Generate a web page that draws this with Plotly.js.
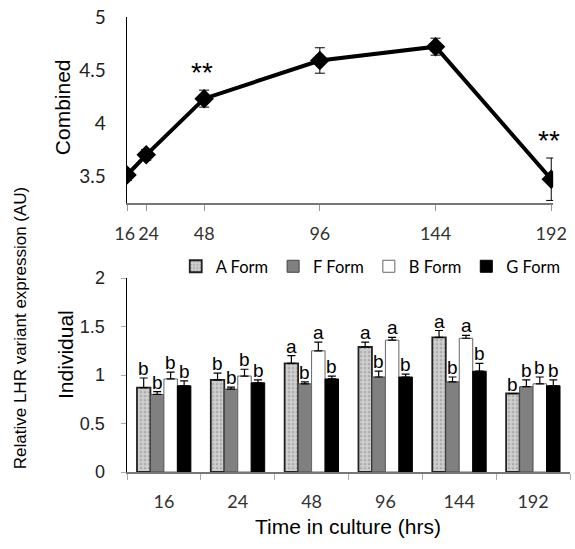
<!DOCTYPE html>
<html><head><meta charset="utf-8">
<script src="https://cdn.plot.ly/plotly-3.0.1.min.js"></script>
<style>body{margin:0;background:#fff}#c{width:575px;height:549px}</style>
</head><body><div id="c"></div>
<script>
// Combined (top)
const timesNum = [16, 24, 48, 96, 144, 192];
const timeLabels = ["16\u00a0", "\u00a024", "48", "96", "144", "192"];
const combined = [3.51, 3.70, 4.23, 4.59, 4.72, 3.47];
const combinedErr = [0.05, 0.05, 0.08, 0.12, 0.08, 0.20];
const combinedSig = ["", "", "**", "", "", "**"];

// Individual (bottom)
const categories = ["16", "24", "48", "96", "144", "192"];
const formNames = ["A Form", "F Form", "B Form", "G Form"];
const aForm = [0.87, 0.95, 1.12, 1.29, 1.39, 0.81];
const fForm = [0.80, 0.855, 0.91, 0.98, 0.93, 0.88];
const bForm = [0.96, 0.99, 1.25, 1.36, 1.38, 0.91];
const gForm = [0.89, 0.92, 0.96, 0.98, 1.04, 0.89];
const aErr = [0.10, 0.07, 0.08, 0.05, 0.07, 0];
const fErr = [0.03, 0.02, 0.02, 0.06, 0.05, 0.07];
const bErr = [0.07, 0.07, 0.09, 0.03, 0.03, 0.07];
const gErr = [0.05, 0.03, 0.03, 0.03, 0.08, 0.06];
const aLet = ["b", "b", "a", "a", "a", "b"];
const fLet = ["b", "b", "b", "b", "b", "b"];
const bLet = ["b", "b", "a", "a", "a", "b"];
const gLet = ["b", "b", "b", "b", "b", "b"];

const vals = [aForm, fForm, bForm, gForm];
const errs = [aErr, fErr, bErr, gErr];
const lets = [aLet, fLet, bLet, gLet];
const styles = [
  {color: "#c4c4c4", line: {color: "#222", width: 1.8}, pattern: {shape: ".", fgcolor: "#8a8a8a", bgcolor: "#cfcfcf", size: 4, solidity: 0.35, fillmode: "overlay"}},
  {color: "#808080", line: {color: "#444", width: 1}},
  {color: "#ffffff", line: {color: "#666", width: 1}},
  {color: "#000000", line: {color: "#000", width: 1}}
];

const tickFont = {family: "Lato, 'Open Sans', sans-serif", size: 18, color: "#333"};
const traces = [];
traces.push({
  type: "scatter", mode: "lines+markers", x: timesNum, y: combined, xaxis: "x", yaxis: "y",
  line: {color: "#000", width: 4}, marker: {symbol: "diamond", size: 15, color: "#000"},
  error_y: {type: "data", array: combinedErr, visible: true, color: "#000", thickness: 1, width: 5},
  showlegend: false, hoverinfo: "skip"
});
for (let k = 0; k < 4; k++) {
  traces.push({
    type: "bar", name: formNames[k], x: categories, y: vals[k], xaxis: "x2", yaxis: "y2",
    marker: styles[k],
    error_y: {type: "data", array: errs[k], arrayminus: errs[k].map(() => 0), symmetric: false, visible: true, color: "#000", thickness: 1.2, width: 4}
  });
}

const annotations = [];
// ** marks
for (let i = 0; i < timesNum.length; i++) {
  if (combinedSig[i]) {
    annotations.push({x: timesNum[i], y: combined[i] + combinedErr[i], xref: "x", yref: "y",
      text: combinedSig[i], showarrow: false, xanchor: "center", yanchor: "bottom", yshift: 0, xshift: -2,
      font: {family: "Liberation Sans, Arial, sans-serif", size: 28, color: "#000"}});
  }
}
// letters (category index positions on the category axis)
const barPx = 13.5;
for (let k = 0; k < 4; k++) {
  for (let i = 0; i < categories.length; i++) {
    annotations.push({x: i, y: vals[k][i] + errs[k][i], xref: "x2", yref: "y2",
      text: lets[k][i], showarrow: false, xanchor: "center", yanchor: "bottom", yshift: -3, xshift: (k - 1.5) * barPx,
      font: {family: "Liberation Sans, Arial, sans-serif", size: 19, color: "#000"}});
  }
}
// titles
const titleFont = {family: "Liberation Sans, Arial, sans-serif", color: "#000"};
annotations.push({x: -0.241, y: (472 - 328) / 455, xref: "paper", yref: "paper", text: "Relative LHR variant expression (AU)",
  textangle: -90, showarrow: false, xanchor: "center", yanchor: "middle", font: Object.assign({size: 17}, titleFont)});
annotations.push({x: -0.144, y: (472 - 107) / 455, xref: "paper", yref: "paper", text: "Combined",
  textangle: -90, showarrow: false, xanchor: "center", yanchor: "middle", font: Object.assign({size: 21}, titleFont)});
annotations.push({x: -0.14, y: (472 - 354) / 455, xref: "paper", yref: "paper", text: "Individual",
  textangle: -90, showarrow: false, xanchor: "center", yanchor: "middle", font: Object.assign({size: 21}, titleFont)});
annotations.push({x: (348 - 127) / 443, y: (472 - 526) / 455, xref: "paper", yref: "paper", text: "Time in culture (hrs)",
  showarrow: false, xanchor: "center", yanchor: "middle", font: Object.assign({size: 21}, titleFont)});

const layout = {
  width: 575, height: 549,
  margin: {l: 127, r: 5, t: 17, b: 77, autoexpand: false},
  paper_bgcolor: "#fff", plot_bgcolor: "#fff",
  showlegend: true,
  legend: {orientation: "h", x: 0.11, y: 0.49, xanchor: "left", yanchor: "top",
    font: {family: "Lato, 'Open Sans', sans-serif", size: 16.5, color: "#000"}, itemwidth: 30,
    bgcolor: "rgba(0,0,0,0)"},
  barmode: "group", bargap: 0.27, bargroupgap: 0,
  xaxis: {domain: [0, 0.962], range: [16, 192.8], tickvals: timesNum, ticktext: timeLabels, tickangle: 0,
    showgrid: false, zeroline: false, showline: true, linecolor: "#777", linewidth: 1.5,
    ticks: "outside", ticklen: 6, tickcolor: "#999", tickfont: tickFont, ticklabelstandoff: 8, anchor: "y"},
  yaxis: {domain: [0.591, 1], range: [3.245, 5], tickvals: [3.5, 4, 4.5, 5], ticktext: ["3.5", "4", "4.5", "5"],
    showgrid: false, zeroline: false, showline: true, linecolor: "#000", linewidth: 1.5,
    ticks: "", tickfont: {family: "Lato, 'Open Sans', sans-serif", size: 19, color: "#222"}, ticklabelstandoff: 16, anchor: "x"},
  xaxis2: {domain: [0, 1], range: [-0.5, 5.5], type: "category", showgrid: false, zeroline: false, tickangle: 0,
    showline: true, linecolor: "#777", linewidth: 1.5, ticks: "outside", tickson: "boundaries", ticklen: 6, tickcolor: "#aaa",
    tickfont: tickFont, ticklabelstandoff: 13, anchor: "y2"},
  yaxis2: {domain: [0, 0.426], range: [0, 2], tickvals: [0, 0.5, 1, 1.5, 2], ticktext: ["0", "0.5", "1", "1.5", "2"],
    showgrid: false, zeroline: false, showline: true, linecolor: "#000", linewidth: 1.5,
    ticks: "outside", ticklen: 5, tickcolor: "#aaa",
    tickfont: {family: "Liberation Sans, Arial, sans-serif", size: 18, color: "#222"}, ticklabelstandoff: 12, anchor: "x2"},
  annotations: annotations
};
Plotly.newPlot("c", traces, layout, {displayModeBar: false, staticPlot: true});
</script></body></html>
